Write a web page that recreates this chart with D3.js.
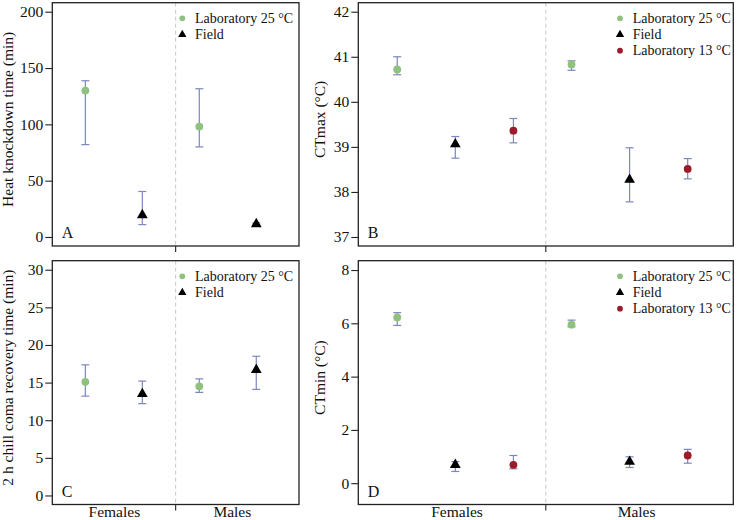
<!DOCTYPE html>
<html>
<head>
<meta charset="utf-8">
<script src="https://cdn.jsdelivr.net/npm/d3@7"></script>
<style>
  body { margin: 0; background: #fff; }
</style>
</head>
<body>
<div id="chart"></div>
<script>
// categories and series
var groups = ['Females', 'Males'];
var seriesNames = ['Laboratory 25 °C', 'Field', 'Laboratory 13 °C'];

// A: heat knockdown time (min)
var knockLab25 = [130, 98];
var knockLab25Lo = [82, 80];
var knockLab25Hi = [138.7, 131.6];
var knockField = [19.5, 11.5];
var knockFieldLo = [11, 10.5];
var knockFieldHi = [40.4, 12.5];

// B: CTmax (°C)
var ctmaxLab25 = [40.72, 40.83];
var ctmaxLab25Lo = [40.6, 40.7];
var ctmaxLab25Hi = [41.0, 40.91];
var ctmaxField = [39.06, 38.27];
var ctmaxFieldLo = [38.75, 37.78];
var ctmaxFieldHi = [39.23, 38.98];
var ctmaxLab13 = [39.36, 38.51];
var ctmaxLab13Lo = [39.09, 38.29];
var ctmaxLab13Hi = [39.63, 38.74];

// C: chill coma recovery time (min)
var ccrLab25 = [15.1, 14.5];
var ccrLab25Lo = [13.2, 13.7];
var ccrLab25Hi = [17.36, 15.5];
var ccrField = [13.5, 16.7];
var ccrFieldLo = [12.2, 14.1];
var ccrFieldHi = [15.2, 18.5];

// D: CTmin (°C)
var ctminLab25 = [6.22, 5.95];
var ctminLab25Lo = [5.92, 5.87];
var ctminLab25Hi = [6.4, 6.12];
var ctminField = [0.69, 0.81];
var ctminFieldLo = [0.44, 0.59];
var ctminFieldHi = [0.81, 0.99];
var ctminLab13 = [0.69, 1.04];
var ctminLab13Lo = [0.54, 0.75];
var ctminLab13Hi = [1.04, 1.27];

// tick labels
var ticksA = [0, 50, 100, 150, 200];
var ticksB = [37, 38, 39, 40, 41, 42];
var ticksC = [0, 5, 10, 15, 20, 25, 30];
var ticksD = [0, 2, 4, 6, 8];

var W = 738, H = 520;
var FONT = 'Liberation Serif';
var colLeft = {x0: 52.3, x1: 299};
var colRight = {x0: 358.3, x1: 733.3};
var rowTop = {y0: 2.7, y1: 246};
var rowBottom = {y0: 260.7, y1: 504.5};

var green = '#8fc27e';
var red = '#9c1b2b';
var errColor = '#7d86bd';

var styles = [
	{name: seriesNames[0], shape: d3.symbolCircle, fill: green},
	{name: seriesNames[1], shape: d3.symbolTriangle, fill: '#000'},
	{name: seriesNames[2], shape: d3.symbolCircle, fill: red}
];

var svg = d3.select('#chart').append('svg')
	.attr('width', W).attr('height', H)
	.attr('font-family', FONT);

function drawPanel(cfg){
	var n = cfg.series.length;
	var x = d3.scaleLinear().domain(n == 2 ? [0.42, 4.75] : [0.33, 6.785])
		.range([cfg.col.x0, cfg.col.x1]);
	var y = d3.scaleLinear().domain(cfg.yDomain).range([cfg.row.y1, cfg.row.y0]);
	var g = svg.append('g');

	// points table
	var pts = [];
	cfg.series.forEach(function(s, si){
		groups.forEach(function(grp, gi){
			pts.push({pos: gi * n + si + 1, mean: s.mean[gi], lo: s.lo[gi], hi: s.hi[gi], style: styles[s.style]});
		});
	});

	// divider
	var xm = (cfg.col.x0 + cfg.col.x1) / 2;
	g.append('line')
		.attr('x1', xm).attr('x2', xm)
		.attr('y1', cfg.row.y0).attr('y2', cfg.row.y1)
		.attr('stroke', '#c8c8c8').attr('stroke-width', 1)
		.attr('stroke-dasharray', '4,3');

	// y axis
	var yAxis = g.append('g')
		.attr('transform', 'translate(' + cfg.col.x0 + ',0)')
		.call(d3.axisLeft(y).tickValues(cfg.ticks).tickSize(7).tickPadding(2).tickFormat(d3.format('d')));
	yAxis.attr('font-family', FONT).attr('font-size', 15.5);
	yAxis.select('.domain').remove();
	yAxis.selectAll('line').attr('stroke', '#222').attr('stroke-width', 1.1);
	yAxis.selectAll('text').attr('fill', '#111');

	// bottom tick at divider
	g.append('line')
		.attr('x1', xm).attr('x2', xm)
		.attr('y1', cfg.row.y1).attr('y2', cfg.row.y1 + 6)
		.attr('stroke', '#222').attr('stroke-width', 1.1);

	if (cfg.groupLabels){
		g.selectAll('.grp').data(groups).enter().append('text')
			.attr('class', 'grp')
			.attr('x', function(d, i){ return x(cfg.groupLabels[i]); })
			.attr('y', cfg.row.y1 + 12.5)
			.attr('text-anchor', 'middle')
			.attr('font-family', FONT)
			.attr('font-size', 15.5).attr('fill', '#111')
			.text(function(d){ return d; });
	}

	// y title
	g.append('text')
		.attr('transform', 'translate(' + (cfg.col.x0 - cfg.titleOff) + ',' + ((cfg.row.y0 + cfg.row.y1) / 2 - 5) + ') rotate(-90)')
		.attr('text-anchor', 'middle')
		.attr('font-family', FONT)
		.attr('font-size', 15.5).attr('fill', '#111')
		.text(cfg.title);

	// error bars
	var eb = g.selectAll('.eb').data(pts).enter().append('g').attr('class', 'eb')
		.attr('stroke', errColor).attr('stroke-width', 1.2);
	eb.append('line')
		.attr('x1', function(d){ return x(d.pos); }).attr('x2', function(d){ return x(d.pos); })
		.attr('y1', function(d){ return y(d.lo); }).attr('y2', function(d){ return y(d.hi); });
	eb.append('line')
		.attr('x1', function(d){ return x(d.pos) - 4; }).attr('x2', function(d){ return x(d.pos) + 4; })
		.attr('y1', function(d){ return y(d.lo); }).attr('y2', function(d){ return y(d.lo); });
	eb.append('line')
		.attr('x1', function(d){ return x(d.pos) - 4; }).attr('x2', function(d){ return x(d.pos) + 4; })
		.attr('y1', function(d){ return y(d.hi); }).attr('y2', function(d){ return y(d.hi); });

	// markers
	g.selectAll('.pt').data(pts).enter().append('path').attr('class', 'pt')
		.attr('transform', function(d){ return 'translate(' + x(d.pos) + ',' + y(d.mean) + ')'; })
		.attr('d', function(d){ return d3.symbol().type(d.style.shape).size(d.style.shape == d3.symbolTriangle ? 50 : 48)(); })
		.attr('fill', function(d){ return d.style.fill; });

	// legend
	var leg = g.append('g');
	cfg.series.forEach(function(s, i){
		var st = styles[s.style];
		var ly = cfg.row.y0 + 15.6 + i * 16.2;
		leg.append('path')
			.attr('transform', 'translate(' + (cfg.col.x0 + cfg.legendX) + ',' + ly + ')')
			.attr('d', d3.symbol().type(st.shape).size(st.shape == d3.symbolTriangle ? 30 : 26)())
			.attr('fill', st.fill);
		leg.append('text')
			.attr('x', cfg.col.x0 + cfg.legendX + 12.7)
			.attr('y', ly + 4.3)
			.attr('font-family', FONT)
			.attr('font-size', 14).attr('fill', '#111')
			.text(st.name);
	});

	// panel letter
	g.append('text')
		.attr('x', cfg.col.x0 + 9.5)
		.attr('y', cfg.row.y1 - 8)
		.attr('font-family', FONT)
		.attr('font-size', 16).attr('fill', '#111')
		.text(cfg.letter);

	// box
	g.append('rect')
		.attr('x', cfg.col.x0).attr('y', cfg.row.y0)
		.attr('width', cfg.col.x1 - cfg.col.x0).attr('height', cfg.row.y1 - cfg.row.y0)
		.attr('fill', 'none').attr('stroke', '#222').attr('stroke-width', 1.3);
}

drawPanel({
	col: colLeft, row: rowTop, yDomain: [-8, 208], ticks: ticksA,
	title: 'Heat knockdown time (min)', titleOff: 39, letter: 'A', legendX: 130,
	series: [
		{style: 0, mean: knockLab25, lo: knockLab25Lo, hi: knockLab25Hi},
		{style: 1, mean: knockField, lo: knockFieldLo, hi: knockFieldHi}
	]
});

drawPanel({
	col: colRight, row: rowTop, yDomain: [36.8, 42.2], ticks: ticksB,
	title: 'CTmax (°C)', titleOff: 33, letter: 'B', legendX: 261.7,
	series: [
		{style: 0, mean: ctmaxLab25, lo: ctmaxLab25Lo, hi: ctmaxLab25Hi},
		{style: 1, mean: ctmaxField, lo: ctmaxFieldLo, hi: ctmaxFieldHi},
		{style: 2, mean: ctmaxLab13, lo: ctmaxLab13Lo, hi: ctmaxLab13Hi}
	]
});

drawPanel({
	col: colLeft, row: rowBottom, yDomain: [-1.2, 31.2], ticks: ticksC,
	title: '2 h chill coma recovery time (min)', titleOff: 39, letter: 'C', legendX: 130,
	groupLabels: [1.51, 3.58],
	series: [
		{style: 0, mean: ccrLab25, lo: ccrLab25Lo, hi: ccrLab25Hi},
		{style: 1, mean: ccrField, lo: ccrFieldLo, hi: ccrFieldHi}
	]
});

drawPanel({
	col: colRight, row: rowBottom, yDomain: [-0.8, 8.35], ticks: ticksD,
	title: 'CTmin (°C)', titleOff: 33, letter: 'D', legendX: 261.7,
	groupLabels: [2.03, 5.12],
	series: [
		{style: 0, mean: ctminLab25, lo: ctminLab25Lo, hi: ctminLab25Hi},
		{style: 1, mean: ctminField, lo: ctminFieldLo, hi: ctminFieldHi},
		{style: 2, mean: ctminLab13, lo: ctminLab13Lo, hi: ctminLab13Hi}
	]
});
</script>
</body>
</html>
